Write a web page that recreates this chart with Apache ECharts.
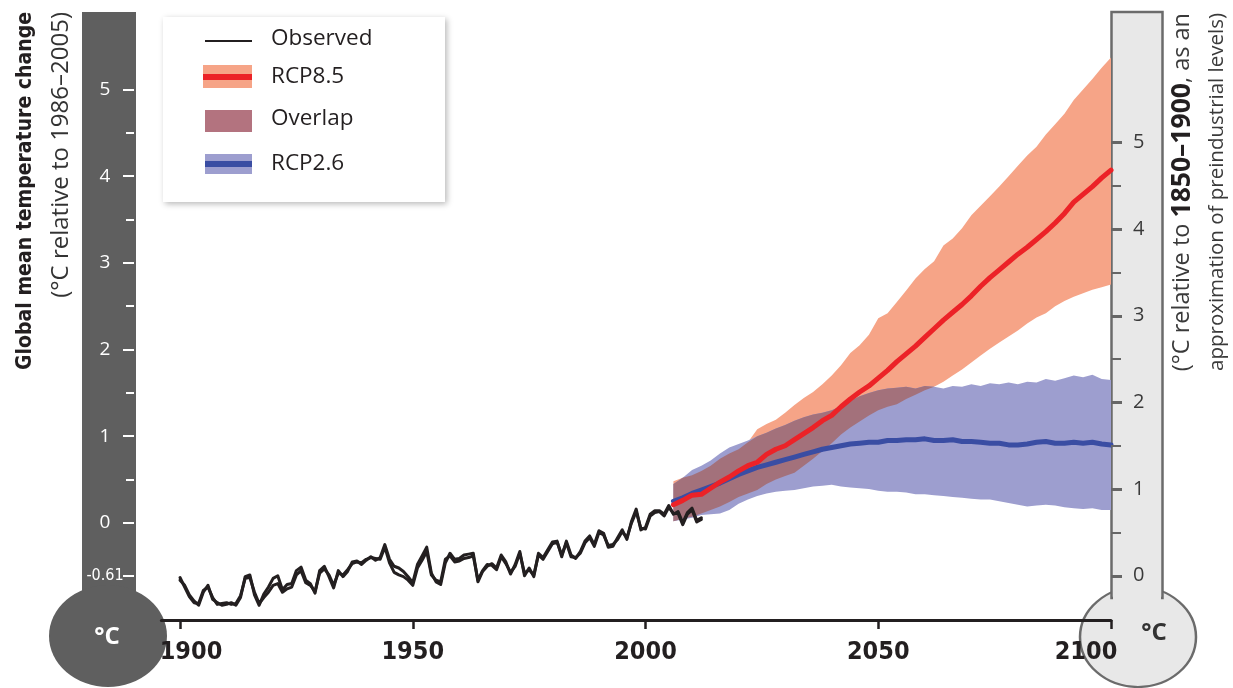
<!DOCTYPE html>
<html>
<head>
<meta charset="utf-8">
<script src="https://cdn.jsdelivr.net/npm/echarts@6/dist/echarts.min.js"></script>
<style>
  html, body { margin: 0; padding: 0; background: #ffffff; }
  #chart { width: 1233px; height: 688px; }
</style>
</head>
<body>
<div id="chart"></div>
<script>
// ---- Observed global mean temperature (°C relative to 1986–2005), 1900–2012 ----
const observedStartYear = 1900;
const observedA = [
  -0.66, -0.72, -0.83, -0.90, -0.95, -0.80, -0.72, -0.88, -0.92, -0.95,
  -0.94, -0.92, -0.95, -0.86, -0.62, -0.60, -0.83, -0.95, -0.82, -0.74,
  -0.64, -0.61, -0.77, -0.71, -0.70, -0.55, -0.51, -0.66, -0.70, -0.81,
  -0.55, -0.50, -0.62, -0.75, -0.55, -0.62, -0.56, -0.45, -0.44, -0.48,
  -0.43, -0.39, -0.43, -0.40, -0.25, -0.42, -0.50, -0.52, -0.56, -0.62,
  -0.69, -0.48, -0.38, -0.28, -0.58, -0.68, -0.71, -0.46, -0.35, -0.42,
  -0.41, -0.37, -0.36, -0.35, -0.68, -0.56, -0.50, -0.47, -0.52, -0.37,
  -0.45, -0.59, -0.48, -0.33, -0.61, -0.52, -0.62, -0.35, -0.40, -0.31,
  -0.22, -0.21, -0.39, -0.21, -0.37, -0.41, -0.33, -0.21, -0.15, -0.25,
  -0.09, -0.12, -0.28, -0.27, -0.17, -0.08, -0.19, 0.02, 0.16, -0.08,
  -0.05, 0.10, 0.14, 0.14, 0.10, 0.20, 0.10, 0.13, 0.00, 0.12,
  0.17, 0.03, 0.06
];
const observedB = [
  -0.63, -0.74, -0.85, -0.92, -0.93, -0.78, -0.74, -0.86, -0.94, -0.93,
  -0.92, -0.94, -0.93, -0.84, -0.64, -0.63, -0.80, -0.93, -0.86, -0.80,
  -0.72, -0.70, -0.80, -0.76, -0.74, -0.60, -0.55, -0.69, -0.72, -0.79,
  -0.58, -0.53, -0.60, -0.72, -0.58, -0.60, -0.54, -0.47, -0.45, -0.46,
  -0.42, -0.40, -0.41, -0.42, -0.28, -0.46, -0.57, -0.60, -0.62, -0.66,
  -0.72, -0.52, -0.43, -0.33, -0.60, -0.66, -0.68, -0.42, -0.38, -0.45,
  -0.44, -0.41, -0.40, -0.38, -0.66, -0.55, -0.48, -0.49, -0.54, -0.39,
  -0.47, -0.57, -0.50, -0.35, -0.58, -0.54, -0.60, -0.37, -0.42, -0.33,
  -0.24, -0.22, -0.37, -0.23, -0.39, -0.40, -0.35, -0.23, -0.17, -0.27,
  -0.11, -0.14, -0.26, -0.25, -0.19, -0.10, -0.17, 0.00, 0.13, -0.06,
  -0.07, 0.08, 0.12, 0.13, 0.08, 0.18, 0.11, 0.11, -0.02, 0.10,
  0.15, 0.01, 0.04
];

// ---- Projections, 2006–2100 (every second year) ----
const projYears = [
  2006, 2008, 2010, 2012, 2014, 2016, 2018, 2020, 2022, 2024,
  2026, 2028, 2030, 2032, 2034, 2036, 2038, 2040, 2042, 2044,
  2046, 2048, 2050, 2052, 2054, 2056, 2058, 2060, 2062, 2064,
  2066, 2068, 2070, 2072, 2074, 2076, 2078, 2080, 2082, 2084,
  2086, 2088, 2090, 2092, 2094, 2096, 2098, 2100
];
const rcp85Mean = [
  0.21, 0.26, 0.32, 0.33, 0.40, 0.47, 0.53, 0.60, 0.66, 0.70,
  0.79, 0.85, 0.89, 0.96, 1.03, 1.10, 1.18, 1.24, 1.34, 1.43,
  1.51, 1.58, 1.67, 1.76, 1.86, 1.95, 2.04, 2.14, 2.24, 2.34,
  2.43, 2.52, 2.62, 2.73, 2.83, 2.92, 3.01, 3.10, 3.18, 3.27,
  3.36, 3.46, 3.57, 3.70, 3.79, 3.88, 3.98, 4.07
];
const rcp85High = [
  0.48, 0.52, 0.55, 0.60, 0.66, 0.74, 0.80, 0.85, 0.93, 1.08,
  1.14, 1.19, 1.27, 1.36, 1.44, 1.51, 1.60, 1.70, 1.82, 1.96,
  2.05, 2.17, 2.36, 2.42, 2.55, 2.68, 2.82, 2.93, 3.02, 3.20,
  3.28, 3.40, 3.55, 3.66, 3.77, 3.88, 4.00, 4.12, 4.24, 4.34,
  4.48, 4.60, 4.72, 4.88, 5.00, 5.12, 5.25, 5.37
];
const rcp85Low = [
  0.02, 0.05, 0.07, 0.11, 0.15, 0.19, 0.24, 0.30, 0.34, 0.38,
  0.45, 0.50, 0.54, 0.58, 0.66, 0.74, 0.83, 0.92, 1.02, 1.10,
  1.17, 1.24, 1.30, 1.34, 1.37, 1.43, 1.48, 1.53, 1.57, 1.63,
  1.70, 1.77, 1.85, 1.93, 2.01, 2.08, 2.15, 2.22, 2.30, 2.37,
  2.42, 2.50, 2.56, 2.61, 2.65, 2.69, 2.72, 2.75
];
const rcp26Mean = [
  0.25, 0.29, 0.34, 0.38, 0.42, 0.46, 0.51, 0.56, 0.60, 0.64,
  0.67, 0.70, 0.73, 0.76, 0.79, 0.82, 0.85, 0.87, 0.89, 0.91,
  0.92, 0.93, 0.93, 0.95, 0.95, 0.96, 0.96, 0.97, 0.95, 0.95,
  0.96, 0.94, 0.94, 0.93, 0.92, 0.92, 0.90, 0.90, 0.91, 0.93,
  0.94, 0.92, 0.92, 0.93, 0.92, 0.93, 0.91, 0.90
];
const rcp26High = [
  0.45, 0.52, 0.61, 0.66, 0.72, 0.80, 0.87, 0.91, 0.95, 1.00,
  1.04, 1.09, 1.13, 1.18, 1.22, 1.25, 1.27, 1.30, 1.35, 1.41,
  1.46, 1.50, 1.53, 1.55, 1.56, 1.57, 1.55, 1.58, 1.57, 1.55,
  1.58, 1.57, 1.60, 1.58, 1.61, 1.60, 1.62, 1.60, 1.63, 1.62,
  1.66, 1.64, 1.67, 1.70, 1.68, 1.71, 1.66, 1.65
];
const rcp26Low = [
  0.02, 0.04, 0.06, 0.09, 0.10, 0.11, 0.15, 0.22, 0.27, 0.31,
  0.34, 0.36, 0.37, 0.38, 0.40, 0.42, 0.43, 0.44, 0.42, 0.41,
  0.40, 0.39, 0.37, 0.36, 0.36, 0.35, 0.33, 0.33, 0.32, 0.31,
  0.30, 0.29, 0.28, 0.27, 0.27, 0.25, 0.23, 0.21, 0.19, 0.20,
  0.21, 0.20, 0.18, 0.17, 0.16, 0.17, 0.15, 0.15
];

// ---- Axes ----
const xTickYears = [1900, 1950, 2000, 2050, 2100];
const leftMajorTicks = [-0.61, 0, 1, 2, 3, 4, 5];
const leftMinorTicks = [0.5, 1.5, 2.5, 3.5, 4.5];
const rightMajorTicks = [0, 1, 2, 3, 4, 5];
const rightMinorTicks = [0.5, 1.5, 2.5, 3.5, 4.5];
const preindustrialOffset = 0.61; // 1986–2005 relative to 1850–1900

const X_MIN = 1896, X_MAX = 2100;
const Y_MIN = -1.12, Y_MAX = 5.9;

// ---- Colours ----
const C_TEXT = '#231f20';
const C_OBS = '#231f20';
const C_85_BAND = '#f6a487';
const C_85_LINE = '#ec2227';
const C_26_BAND = '#9d9ecf';
const C_26_LINE = '#3a4da3';
const C_OVERLAP = '#a3717b';

const COND = '"DejaVu Sans Condensed", "Liberation Sans Narrow", sans-serif';
const SANS = '"Open Sans", "Noto Sans", sans-serif';

// band rows: [year, low, high]
function bandRows(years, lo, hi) {
  return years.map((y, i) => [y, lo[i], hi[i]]);
}

// region where the two projection ranges overlap
function overlapRows() {
  const rows = [];
  for (let i = 0; i < projYears.length; i++) {
    const top = Math.min(rcp85High[i], rcp26High[i]);
    const bot = Math.max(rcp85Low[i], rcp26Low[i]);
    const d = top - bot;
    if (d > 0) {
      rows.push([projYears[i], bot, top]);
    } else if (rows.length) {
      const j = i - 1;
      const topPrev = Math.min(rcp85High[j], rcp26High[j]);
      const dPrev = topPrev - Math.max(rcp85Low[j], rcp26Low[j]);
      const t = dPrev / (dPrev - d);
      const x = projYears[j] + t * (projYears[i] - projYears[j]);
      const y = topPrev + t * (top - topPrev);
      rows.push([x, y, y]);
      break;
    }
  }
  return rows;
}

// whole band as one polygon, placed with the cartesian scales
function bandRenderer(fill) {
  return function (params, api) {
    if (params.dataIndex !== 0) return null;
    const n = params.dataInsideLength;
    const upper = [], lower = [];
    for (let i = 0; i < n; i++) {
      const x = api.value(0, i);
      upper.push(api.coord([x, api.value(2, i)]));
      lower.push(api.coord([x, api.value(1, i)]));
    }
    return {
      type: 'polygon',
      shape: { points: upper.concat(lower.reverse()) },
      style: { fill: fill, stroke: null }
    };
  };
}

function bandSeries(name, rows, fill) {
  return {
    name: name,
    type: 'custom',
    renderItem: bandRenderer(fill),
    data: rows,
    encode: { x: 0, y: [1, 2] },
    silent: true,
    z: 2
  };
}

function lineSeries(name, pts, color, width, z) {
  return {
    name: name,
    type: 'line',
    data: pts,
    showSymbol: false,
    symbol: 'none',
    lineStyle: { color: color, width: width, join: 'round', cap: 'round' },
    silent: true,
    z: z
  };
}

const obsPts = arr => arr.map((v, i) => [observedStartYear + i, v]);
const projPts = arr => projYears.map((y, i) => [y, arr[i]]);

// ---- Thermometer shapes, titles and legend ----
const leftThermo = [
  { type: 'rect', shape: { x: 82, y: 12, width: 54, height: 590 }, style: { fill: '#5f5f5f' }, z: 0 },
  { type: 'circle', x: 108, y: 636, scaleY: 51 / 59, shape: { cx: 0, cy: 0, r: 59 }, style: { fill: '#5f5f5f' }, z: 0 },
  { type: 'text', x: 107, y: 637, style: { text: '°C', fill: '#ffffff', font: 'bold 24px ' + SANS, align: 'center', verticalAlign: 'middle' }, z: 1 }
];
const rightThermo = [
  { type: 'circle', x: 1138, y: 637, scaleY: 50 / 58, shape: { cx: 0, cy: 0, r: 58 }, style: { fill: '#e8e8e8', stroke: '#6b6b6b', lineWidth: 2.5 }, z: 0 },
  { type: 'rect', shape: { x: 1111.5, y: 12, width: 51, height: 586 }, style: { fill: '#e8e8e8', stroke: '#6b6b6b', lineWidth: 2.5 }, z: 0 },
  { type: 'rect', shape: { x: 1113, y: 584, width: 48, height: 16 }, style: { fill: '#e8e8e8' }, z: 0 },
  { type: 'text', x: 1154, y: 633, style: { text: '°C', fill: '#333333', font: 'bold 24px ' + SANS, align: 'center', verticalAlign: 'middle' }, z: 1 }
];

const axisTitles = [
  { type: 'text', x: 26, y: 12, rotation: Math.PI / 2,
    style: { text: 'Global mean temperature change', fill: C_TEXT, font: 'bold 21px ' + COND, align: 'right', verticalAlign: 'middle' }, z: 5 },
  { type: 'text', x: 61, y: 12, rotation: Math.PI / 2,
    style: { text: '(°C relative to 1986–2005)', fill: '#333333', font: '24px ' + SANS, align: 'right', verticalAlign: 'middle' }, z: 5 },
  { type: 'text', x: 1182, y: 13, rotation: Math.PI / 2,
    style: {
      text: '{n|(°C relative to }{b|1850–1900}{n|, as an}',
      align: 'right', verticalAlign: 'middle',
      rich: {
        n: { fill: '#3a3a3a', font: '23.5px ' + SANS },
        b: { fill: '#231f20', font: 'bold 26.5px ' + SANS }
      }
    }, z: 5 },
  { type: 'text', x: 1217, y: 13, rotation: Math.PI / 2,
    style: { text: 'approximation of preindustrial levels)', fill: '#3a3a3a', font: '20.5px ' + SANS, align: 'right', verticalAlign: 'middle' }, z: 5 }
];

const legendItems = [
  { type: 'rect', shape: { x: 163, y: 17, width: 282, height: 185 },
    style: { fill: '#ffffff', shadowBlur: 6, shadowColor: 'rgba(0,0,0,0.28)', shadowOffsetX: 2, shadowOffsetY: 2 }, z: 20 },
  { type: 'line', shape: { x1: 205, y1: 41, x2: 252, y2: 41 }, style: { stroke: C_OBS, lineWidth: 2 }, z: 21 },
  { type: 'text', x: 271, y: 39, style: { text: 'Observed', fill: C_TEXT, font: '22.5px ' + SANS, verticalAlign: 'middle' }, z: 21 },
  { type: 'rect', shape: { x: 203, y: 65, width: 49, height: 23 }, style: { fill: C_85_BAND }, z: 21 },
  { type: 'line', shape: { x1: 203, y1: 77, x2: 252, y2: 77 }, style: { stroke: C_85_LINE, lineWidth: 6 }, z: 22 },
  { type: 'text', x: 271, y: 77, style: { text: 'RCP8.5', fill: C_TEXT, font: '22.5px ' + SANS, verticalAlign: 'middle' }, z: 21 },
  { type: 'rect', shape: { x: 205, y: 110, width: 47, height: 22 }, style: { fill: '#b3737f' }, z: 21 },
  { type: 'text', x: 271, y: 119, style: { text: 'Overlap', fill: C_TEXT, font: '22.5px ' + SANS, verticalAlign: 'middle' }, z: 21 },
  { type: 'rect', shape: { x: 205, y: 154, width: 47, height: 20 }, style: { fill: C_26_BAND }, z: 21 },
  { type: 'line', shape: { x1: 205, y1: 164, x2: 252, y2: 164 }, style: { stroke: C_26_LINE, lineWidth: 6 }, z: 22 },
  { type: 'text', x: 271, y: 164, style: { text: 'RCP2.6', fill: C_TEXT, font: '22.5px ' + SANS, verticalAlign: 'middle' }, z: 21 }
];

// ---- Chart ----
const chart = echarts.init(document.getElementById('chart'), null, { renderer: 'canvas' });

const yCommon = {
  type: 'value',
  axisLine: { show: false },
  splitLine: { show: false },
  z: 10
};

const xLabelStyle = { fontFamily: COND, fontWeight: 'bold', fontSize: 25, color: C_TEXT };

chart.setOption({
  animation: false,
  backgroundColor: '#ffffff',
  grid: { left: 161.4, right: 122, top: 11.5, bottom: 68, containLabel: false },
  xAxis: {
    type: 'value',
    min: X_MIN,
    max: X_MAX,
    z: 10,
    splitLine: { show: false },
    axisLine: { show: true, onZero: false, lineStyle: { color: C_TEXT, width: 3 } },
    axisTick: { show: true, customValues: xTickYears, length: 9, lineStyle: { color: C_TEXT, width: 2.5 } },
    axisLabel: {
      customValues: xTickYears,
      margin: 20,
      color: C_TEXT,
      fontFamily: COND,
      fontWeight: 'bold',
      fontSize: 25,
      formatter: v => v === 1900 ? '{first|1900}' : (v === 2100 ? '{last|2100}' : '{mid|' + v + '}'),
      rich: {
        first: Object.assign({ padding: [0, 0, 0, 22] }, xLabelStyle),
        last: Object.assign({ padding: [0, 50, 0, 0] }, xLabelStyle),
        mid: Object.assign({}, xLabelStyle)
      }
    }
  },
  yAxis: [
    Object.assign({}, yCommon, {
      position: 'left', offset: 27.4, min: Y_MIN, max: Y_MAX,
      axisTick: { show: true, customValues: leftMajorTicks, length: 11, lineStyle: { color: '#ffffff', width: 2 } },
      axisLabel: {
        customValues: leftMajorTicks,
        margin: 29, align: 'center',
        color: '#ffffff', fontFamily: SANS, fontSize: 19,
        formatter: v => (v < 0 ? '{s|' + v.toFixed(2) + '}' : String(v)),
        rich: { s: { fontFamily: COND, fontSize: 16, color: '#ffffff' } }
      }
    }),
    Object.assign({}, yCommon, {
      position: 'left', offset: 27.4, min: Y_MIN, max: Y_MAX,
      axisTick: { show: true, customValues: leftMinorTicks, length: 8, lineStyle: { color: '#ffffff', width: 2 } },
      axisLabel: { show: false }
    }),
    Object.assign({}, yCommon, {
      position: 'right', offset: 0,
      min: Y_MIN + preindustrialOffset, max: Y_MAX + preindustrialOffset,
      axisTick: { show: true, customValues: rightMajorTicks, length: 11, lineStyle: { color: '#666666', width: 3 } },
      axisLabel: {
        customValues: rightMajorTicks,
        margin: 22, align: 'left',
        color: '#3a3a3a', fontFamily: SANS, fontSize: 20
      }
    }),
    Object.assign({}, yCommon, {
      position: 'right', offset: 0,
      min: Y_MIN + preindustrialOffset, max: Y_MAX + preindustrialOffset,
      axisTick: { show: true, customValues: rightMinorTicks, length: 10, lineStyle: { color: '#666666', width: 2 } },
      axisLabel: { show: false }
    })
  ],
  graphic: { elements: leftThermo.concat(rightThermo, axisTitles, legendItems) },
  series: [
    bandSeries('RCP8.5 range', bandRows(projYears, rcp85Low, rcp85High), C_85_BAND),
    bandSeries('RCP2.6 range', bandRows(projYears, rcp26Low, rcp26High), C_26_BAND),
    bandSeries('Overlap', overlapRows(), C_OVERLAP),
    lineSeries('RCP2.6', projPts(rcp26Mean), C_26_LINE, 5, 4),
    lineSeries('RCP8.5', projPts(rcp85Mean), C_85_LINE, 5, 5),
    lineSeries('Observed B', obsPts(observedB), C_OBS, 3, 6),
    lineSeries('Observed', obsPts(observedA), C_OBS, 3, 6)
  ]
});
</script>
</body>
</html>
